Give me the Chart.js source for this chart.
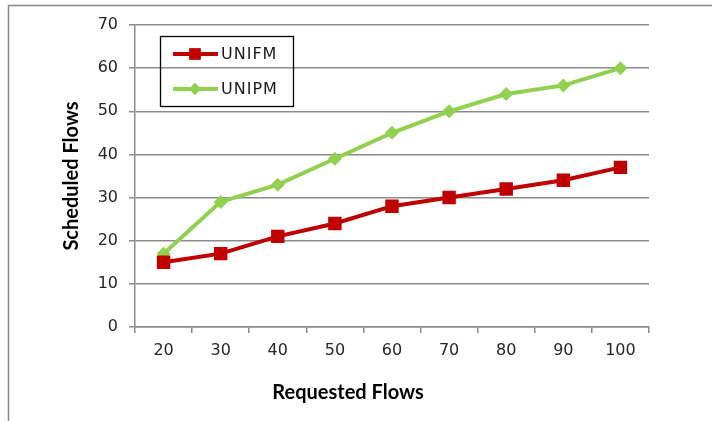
<!DOCTYPE html>
<html>
<head>
<meta charset="utf-8">
<script src="https://cdn.jsdelivr.net/npm/chart.js@4/dist/chart.umd.min.js"></script>
<style>
  html, body { margin: 0; padding: 0; background: #fff; }
  #wrap { width: 712px; height: 421px; position: relative; }
</style>
</head>
<body>
<div id="wrap"><canvas id="chart"></canvas></div>
<script>
// chart values
const categories = ['20', '30', '40', '50', '60', '70', '80', '90', '100'];
const unifm = [15, 17, 21, 24, 28, 30, 32, 34, 37];
const unipm = [17, 29, 33, 39, 45, 50, 54, 56, 60];
const yTicks = [0, 10, 20, 30, 40, 50, 60, 70];

const RED = '#C00000';
const GREEN = '#92D050';
const GRID = '#8c8c8c';

// outer frame, legend box and x title
const extras = {
    id: 'extras',
    beforeDraw(chart) {
        const ctx = chart.ctx;
        ctx.save();
        ctx.strokeStyle = '#8a8a8a';
        ctx.lineWidth = 1.5;
        ctx.beginPath();
        ctx.moveTo(8.5, 421);
        ctx.lineTo(8.5, 5.5);
        ctx.lineTo(712, 5.5);
        ctx.stroke();
        ctx.restore();
    },
    afterDraw(chart) {
        const ctx = chart.ctx;
        ctx.save();
        // legend
        ctx.strokeStyle = '#000';
        ctx.lineWidth = 1.3;
        ctx.strokeRect(160.5, 36.5, 133, 70);
        const rows = [54, 89];
        chart.data.datasets.forEach(function(ds, i) {
            const y = rows[i];
            ctx.strokeStyle = ds.borderColor;
            ctx.lineWidth = 4;
            ctx.beginPath();
            ctx.moveTo(173, y);
            ctx.lineTo(218, y);
            ctx.stroke();
            ctx.fillStyle = ds.borderColor;
            Chart.helpers.drawPoint(ctx, {
                pointStyle: ds.pointStyle,
                radius: i === 0 ? 8 : 6,
                borderWidth: 0,
                rotation: 0
            }, 195, y);
            ctx.fill();
            ctx.fillStyle = '#1a1a1a';
            ctx.font = '16px "DejaVu Sans"';
            ctx.letterSpacing = '1px';
            ctx.textBaseline = 'middle';
            ctx.textAlign = 'left';
            ctx.fillText(ds.label, 221, y + 1);
        });
        // x axis title
        ctx.letterSpacing = '0px';
        ctx.fillStyle = '#000';
        ctx.font = 'bold 20px Lato';
        ctx.textAlign = 'center';
        ctx.textBaseline = 'middle';
        ctx.fillText('Requested Flows', 348, 393);
        ctx.restore();
    }
};

new Chart(document.getElementById('chart'), {
    type: 'line',
    data: {
        labels: categories,
        datasets: [{
            label: 'UNIFM',
            data: unifm,
            borderColor: RED,
            backgroundColor: RED,
            borderWidth: 4,
            pointStyle: 'rect',
            pointRadius: 9.5,
            pointBorderWidth: 0,
            pointBackgroundColor: RED,
            tension: 0
        }, {
            label: 'UNIPM',
            data: unipm,
            borderColor: GREEN,
            backgroundColor: GREEN,
            borderWidth: 4,
            pointStyle: 'rectRot',
            pointRadius: 7,
            pointBorderWidth: 0,
            pointBackgroundColor: GREEN,
            tension: 0
        }]
    },
    options: {
        responsive: true,
        maintainAspectRatio: false,
        animation: false,
        layout: { padding: { top: 25, right: 63, left: 0, bottom: 0 } },
        plugins: {
            legend: { display: false },
            tooltip: { enabled: false }
        },
        scales: {
            x: {
                offset: true,
                grid: {
                    offset: true,
                    drawOnChartArea: false,
                    drawTicks: true,
                    tickLength: 6,
                    color: GRID,
                    lineWidth: 1.5
                },
                border: { color: GRID, width: 1.5 },
                ticks: {
                    color: '#262626',
                    font: { family: 'DejaVu Sans', size: 16 },
                    padding: 8,
                    maxRotation: 0
                },
                afterFit(scale) { scale.height = 94; }
            },
            y: {
                min: 0,
                max: 70,
                afterBuildTicks(scale) {
                    scale.ticks = yTicks.map(v => ({ value: v }));
                },
                grid: {
                    color: GRID,
                    lineWidth: 1.5,
                    tickLength: 6
                },
                border: { color: GRID, width: 1.5 },
                ticks: {
                    color: '#262626',
                    font: { family: 'DejaVu Sans', size: 16 },
                    padding: 11
                },
                title: {
                    display: true,
                    text: 'Scheduled Flows',
                    color: '#000',
                    font: { family: 'Lato', size: 20, weight: 'bold' },
                    padding: { top: 60, bottom: 0 }
                },
                afterFit(scale) { scale.width = 135; }
            }
        }
    },
    plugins: [extras]
});
</script>
</body>
</html>
